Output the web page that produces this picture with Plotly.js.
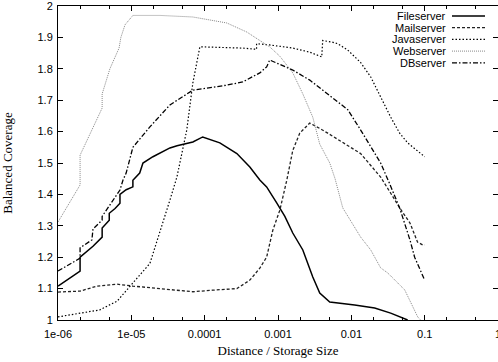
<!DOCTYPE html>
<html>
<head>
<meta charset="utf-8">
<script src="https://cdn.plot.ly/plotly-3.0.1.min.js"></script>
<style>html,body{margin:0;padding:0;background:#fff;}#chart{width:498px;height:362px;}</style>
</head>
<body>
<div id="chart"></div>
<script>
// ---- data ----
const seriesNames = ["Fileserver", "Mailserver", "Javaserver", "Webserver", "DBserver"];

const fileX = [1e-6,2e-6,2e-6,3e-6,4e-6,4e-6,5e-6,5e-6,6e-6,7e-6,7e-6,8.5e-6,1.05e-5,1.05e-5,1.3e-5,1.44e-5,1.97e-5,3.36e-5,4.2e-5,6.9e-5,9.4e-5,1.61e-4,2.75e-4,4.13e-4,5.65e-4,7e-4,9.6e-4,1.24e-3,1.59e-3,2.18e-3,2.98e-3,3.71e-3,5.08e-3,6.53e-3,1.11e-2,2.08e-2,3.44e-2,5.86e-2];
const fileY = [1.108,1.156,1.200,1.235,1.264,1.293,1.318,1.340,1.355,1.372,1.400,1.415,1.424,1.445,1.468,1.500,1.520,1.548,1.555,1.567,1.583,1.564,1.530,1.487,1.446,1.424,1.373,1.330,1.277,1.223,1.137,1.086,1.057,1.054,1.048,1.038,1.022,1.000];

const mailX = [1e-6,2e-6,3.4e-6,6.4e-6,1.05e-5,2.45e-5,3.36e-5,6.9e-5,1.29e-4,2.75e-4,4.13e-4,5.65e-4,7e-4,8.5e-4,1.06e-3,1.32e-3,1.59e-3,1.98e-3,2.18e-3,2.71e-3,3.71e-3,4.77e-3,1.34e-2,2.51e-2,3.7e-2,4.56e-2,6.3e-2,8e-2,9.4e-2,0.1];
const mailY = [1.089,1.092,1.108,1.114,1.108,1.100,1.096,1.090,1.095,1.100,1.127,1.165,1.200,1.286,1.350,1.446,1.540,1.595,1.605,1.627,1.610,1.595,1.530,1.455,1.392,1.357,1.309,1.248,1.239,1.239];

const javaX = [1e-6,2e-6,3.7e-6,6.4e-6,7e-6,1.05e-5,1.79e-5,2.45e-5,3.36e-5,4.18e-5,5.7e-5,6.9e-5,8.6e-5,3.3e-4,5.1e-4,5.1e-4,7.7e-4,1.59e-3,2.71e-3,3.95e-3,4.07e-3,5.5e-3,6.5e-3,8.9e-3,1.34e-2,1.84e-2,2.51e-2,3.44e-2,4.56e-2,5.86e-2,0.1];
const javaY = [1.010,1.022,1.032,1.060,1.070,1.118,1.180,1.277,1.382,1.455,1.605,1.755,1.870,1.866,1.862,1.880,1.876,1.866,1.853,1.838,1.890,1.885,1.880,1.860,1.820,1.774,1.710,1.646,1.595,1.564,1.520];

const webX = [1e-6,2e-6,2e-6,4e-6,4e-6,5.1e-6,6.8e-6,7.2e-6,8.2e-6,1.05e-5,2.45e-5,6.9e-5,2e-4,3.76e-4,5.65e-4,7.7e-4,1.06e-3,1.59e-3,2.18e-3,2.98e-3,3.71e-3,5.08e-3,6.0e-3,7.64e-3,1.34e-2,1.84e-2,2.51e-2,3.13e-2,5.34e-2,8.03e-2,8.8e-2];
const webY = [1.312,1.430,1.525,1.675,1.720,1.800,1.866,1.900,1.940,1.970,1.970,1.965,1.946,1.917,1.890,1.870,1.840,1.787,1.720,1.646,1.560,1.500,1.450,1.357,1.264,1.223,1.166,1.150,1.096,1.010,1.000];

const dbX = [1e-6,2e-6,2e-6,2.9e-6,3e-6,4e-6,4e-6,5.6e-6,7e-6,7.7e-6,8.5e-6,1.05e-5,1.79e-5,3.36e-5,4.18e-5,6.9e-5,2.0e-4,3.3e-4,5.65e-4,7e-4,7.7e-4,1.59e-3,2.71e-3,4.62e-3,8.93e-3,1.34e-2,2.51e-2,3.3e-2,4.56e-2,6.3e-2,7.3e-2,0.1];
const dbY = [1.156,1.197,1.230,1.255,1.290,1.318,1.330,1.380,1.414,1.446,1.468,1.550,1.615,1.685,1.700,1.732,1.748,1.758,1.787,1.806,1.828,1.796,1.764,1.723,1.670,1.605,1.500,1.436,1.357,1.255,1.200,1.127];

const xTickVals = [1e-6,1e-5,1e-4,1e-3,1e-2,1e-1,1];
const xTickText = ["1e-06","1e-05","0.0001","0.001","0.01","0.1","1"];
const yTickVals = [1,1.1,1.2,1.3,1.4,1.5,1.6,1.7,1.8,1.9,2];
const yTickText = ["1","1.1","1.2","1.3","1.4","1.5","1.6","1.7","1.8","1.9","2"];

// ---- styles ----
const styles = [
  {color:"#000000", width:1.5, dash:"solid"},
  {color:"#222222", width:1.3, dash:"3px,2px"},
  {color:"#000000", width:1.2, dash:"1.5px,2px"},
  {color:"#888888", width:1.0, dash:"1px,1px"},
  {color:"#000000", width:1.3, dash:"5px,2px,1.5px,2px"}
];
const xs = [fileX, mailX, javaX, webX, dbX];
const ys = [fileY, mailY, javaY, webY, dbY];

const traces = seriesNames.map((n,i)=>({
  type:"scatter", mode:"lines", name:n, x:xs[i], y:ys[i],
  line:{color:styles[i].color, width:styles[i].width, dash:styles[i].dash},
  showlegend:false, hoverinfo:"skip"
}));

// legend (gnuplot-style: text right-aligned, sample on the right)
const W = 498, H = 362, L = 58, R = 0, T = 6, B = 42;
const pw = W - L - R, ph = H - T - B;
const px2x = p => (p - L) / pw;
const py2y = p => (H - B - p) / ph;
const rowY = [16, 27.7, 39.4, 51.1, 62.8];
const shapes = [], annotations = [];
seriesNames.forEach((n,i)=>{
  shapes.push({type:"line", xref:"paper", yref:"paper",
    x0:px2x(452), x1:px2x(485), y0:py2y(rowY[i]), y1:py2y(rowY[i]),
    line:{color:styles[i].color, width:styles[i].width, dash:styles[i].dash}});
  annotations.push({xref:"paper", yref:"paper", x:px2x(448), y:py2y(rowY[i]),
    xanchor:"right", yanchor:"middle", text:n, showarrow:false,
    font:{family:"Liberation Sans, Arial, sans-serif", size:11, color:"#000"}});
});

const tickFont = {family:"Liberation Sans, Arial, sans-serif", size:11, color:"#000"};
const titleFont = {family:"Liberation Serif, Times New Roman, serif", size:13, color:"#000"};

const layout = {
  width:W, height:H,
  margin:{l:L, r:R, t:T, b:B, pad:0},
  paper_bgcolor:"#fff", plot_bgcolor:"#fff",
  showlegend:false,
  xaxis:{type:"log", range:[-6,0], tickvals:xTickVals, ticktext:xTickText,
    ticks:"inside", ticklen:5, tickcolor:"#000", tickwidth:1,
    minor:{ticks:"inside", ticklen:3, dtick:"D2", tickcolor:"#000", showgrid:false},
    showline:true, linecolor:"#000", linewidth:1, mirror:"allticks",
    showgrid:false, zeroline:false, tickfont:tickFont, ticklabelstandoff:4,
    ticklabeloverflow:"allow",
    title:{text:"Distance / Storage Size", font:titleFont, standoff:6}, automargin:false},
  yaxis:{range:[1,2], tickvals:yTickVals, ticktext:yTickText,
    ticks:"inside", ticklen:5, tickcolor:"#000", tickwidth:1,
    showline:true, linecolor:"#000", linewidth:1, mirror:"allticks",
    showgrid:false, zeroline:false, tickfont:tickFont, ticklabelstandoff:2,
    ticklabeloverflow:"allow",
    title:{text:"Balanced Coverage", font:titleFont, standoff:21}, automargin:false},
  shapes:shapes, annotations:annotations
};

Plotly.newPlot("chart", traces, layout, {staticPlot:true, displayModeBar:false});
</script>
</body>
</html>
